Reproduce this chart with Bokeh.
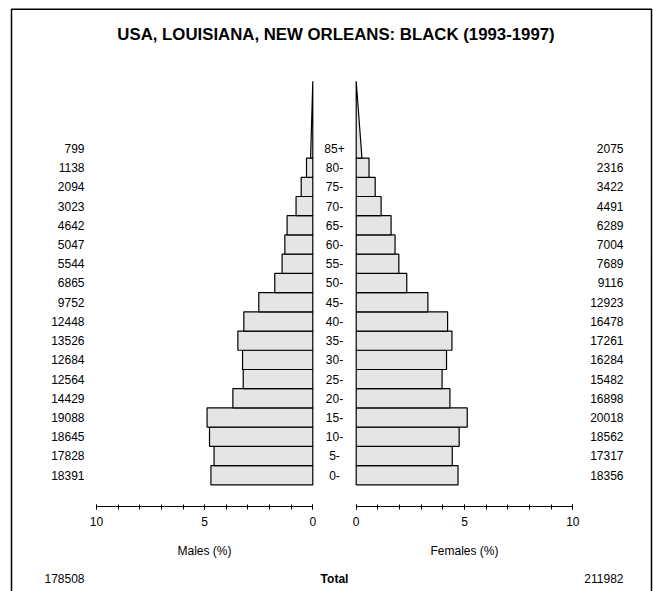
from bokeh.plotting import figure
from bokeh.models import Range1d, LinearAxis, FixedTicker, BoxAnnotation
from bokeh.core.properties import value
from bokeh.embed import file_html
from bokeh.resources import INLINE

# ---------------- data ----------------
title_text = "USA, LOUISIANA, NEW ORLEANS: BLACK (1993-1997)"
age_groups = ["0-", "5-", "10-", "15-", "20-", "25-", "30-", "35-", "40-",
              "45-", "50-", "55-", "60-", "65-", "70-", "75-", "80-", "85+"]
males = [18391, 17828, 18645, 19088, 14429, 12564, 12684, 13526, 12448,
         9752, 6865, 5544, 5047, 4642, 3023, 2094, 1138, 799]
females = [18356, 17317, 18562, 20018, 16898, 15482, 16284, 17261, 16478,
           12923, 9116, 7689, 7004, 6289, 4491, 3422, 2316, 2075]
male_total = 178508
female_total = 211982
axis_ticks = [0, 5, 10]
axis_minor_ticks = list(range(0, 11))
male_axis_label = "Males (%)"
female_axis_label = "Females (%)"
total_label = "Total"

grand_total = male_total + female_total
male_pct = [m / grand_total * 100 for m in males]
female_pct = [f / grand_total * 100 for f in females]

# ---------------- layout constants ----------------
W, H = 653, 591
ROW_PX = 19.22
ROW0_BOTTOM = 484.3          # canvas y of bottom edge of first age row
FONT = "Liberation Sans"


def ydata(canvas_y):
    return (ROW0_BOTTOM - canvas_y) / ROW_PX


MALE_ZERO, MALE_PX = 312.3, 21.63
FEMALE_ZERO, FEMALE_PX = 355.7, 21.66

p = figure(width=W, height=H, output_backend="svg", toolbar_location=None,
           x_range=Range1d(0, W), y_range=Range1d(ydata(H), ydata(0)),
           x_axis_type=None, y_axis_type=None, min_border=0)
p.outline_line_color = None
p.background_fill_color = "white"
p.border_fill_color = "white"

p.extra_x_ranges = {
    "male": Range1d(MALE_ZERO / MALE_PX, (MALE_ZERO - W) / MALE_PX),
    "female": Range1d(-FEMALE_ZERO / FEMALE_PX, (W - FEMALE_ZERO) / FEMALE_PX),
}

n = len(age_groups)
row_centers = [i + 0.5 for i in range(n)]
bar_style = dict(fill_color="#e5e5e5", line_color="black", line_width=1.2)

# regular bars (all but open-ended group)
p.hbar(y=row_centers[:-1], left=0, right=male_pct[:-1], height=1,
       x_range_name="male", **bar_style)
p.hbar(y=row_centers[:-1], left=0, right=female_pct[:-1], height=1,
       x_range_name="female", **bar_style)

# open-ended group drawn as triangle of equal area (height 4 rows)
TRI_ROWS = 4
p.patch(x=[0, male_pct[-1] * 2 / TRI_ROWS, 0], y=[n - 1, n - 1, n - 1 + TRI_ROWS],
        x_range_name="male", **bar_style)
p.patch(x=[0, female_pct[-1] * 2 / TRI_ROWS, 0], y=[n - 1, n - 1, n - 1 + TRI_ROWS],
        x_range_name="female", **bar_style)

# axes
AXIS_Y = ydata(505.7)
for rname, lab in [("male", male_axis_label), ("female", female_axis_label)]:
    ax = LinearAxis(x_range_name=rname, bounds=(0, 10),
                    ticker=FixedTicker(ticks=axis_ticks, minor_ticks=axis_minor_ticks),
                    axis_label=lab, fixed_location=AXIS_Y)
    ax.axis_line_color = "black"
    ax.axis_line_width = 1
    ax.major_tick_in = 2
    ax.major_tick_out = 3
    ax.minor_tick_in = 2
    ax.minor_tick_out = 3
    ax.major_tick_line_color = "black"
    ax.minor_tick_line_color = "black"
    ax.major_label_text_font = FONT
    ax.major_label_text_font_size = "12px"
    ax.major_label_text_color = "black"
    ax.major_label_standoff = 8
    ax.axis_label_text_font = FONT
    ax.axis_label_text_font_size = "12px"
    ax.axis_label_text_font_style = "normal"
    ax.axis_label_text_color = "black"
    ax.axis_label_standoff = 14
    p.add_layout(ax, "below")

txt = dict(text_font=value(FONT), text_font_size="12px", text_color="black",
           text_baseline="middle")

# age labels
p.text(x=[334] * n, y=row_centers, text=age_groups, text_align="center", **txt)
# counts
p.text(x=[84] * n, y=row_centers, text=[str(m) for m in males], text_align="right", **txt)
p.text(x=[623] * n, y=row_centers, text=[str(f) for f in females], text_align="right", **txt)

# totals row
TOT_Y = ydata(578)
p.text(x=[84], y=[TOT_Y], text=[str(male_total)], text_align="right", **txt)
p.text(x=[623], y=[TOT_Y], text=[str(female_total)], text_align="right", **txt)
p.text(x=[334], y=[TOT_Y], text=[total_label], text_align="center",
       text_font_style="bold", **txt)

# title
p.text(x=[335.5], y=[ydata(34)], text=[title_text], text_align="center",
       text_baseline="middle", text_font=value(FONT), text_font_size="16.8px",
       text_font_style="bold", text_color="black")

# border box
p.add_layout(BoxAnnotation(left=11, right=651, top=ydata(8.7), bottom=ydata(H + 30),
                           fill_color=None, line_color="black", line_width=1.5,
                           line_alpha=1))

open("out.html", "w").write(file_html(p, INLINE))
